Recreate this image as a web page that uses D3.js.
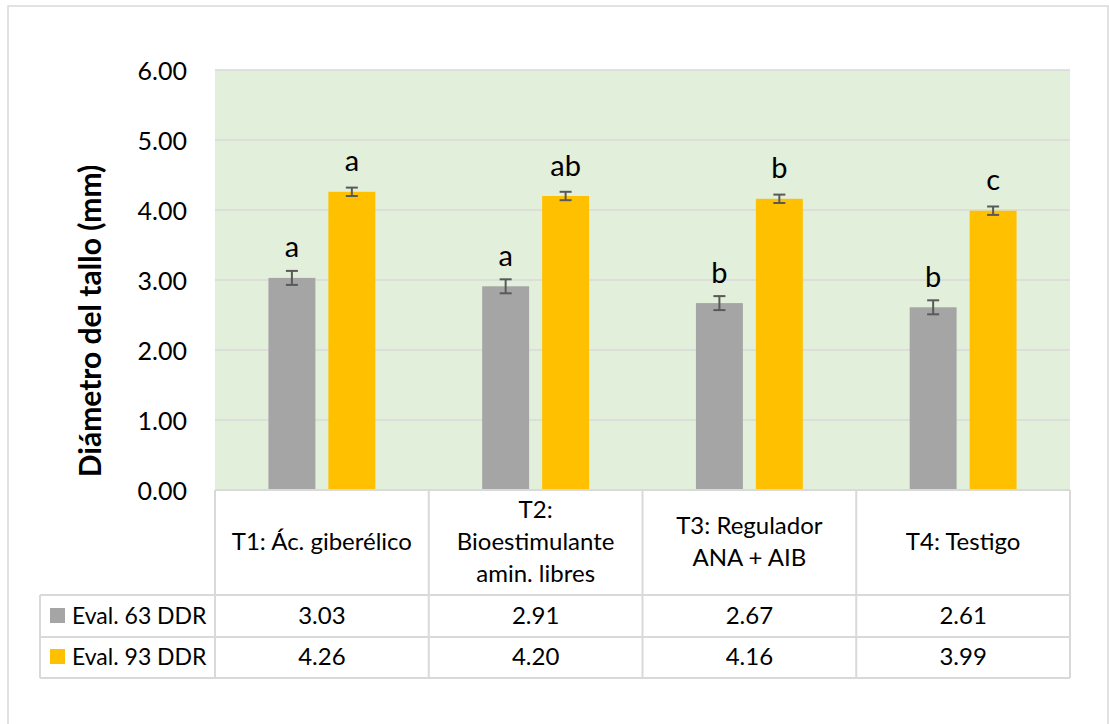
<!DOCTYPE html>
<html><head><meta charset="utf-8">
<script src="https://cdn.jsdelivr.net/npm/d3@7"></script>
<style>body{margin:0;background:#fff}svg{display:block}text{font-family:Lato,"Open Sans",sans-serif;fill:#000}</style>
</head><body><svg id="c" width="1109" height="724"></svg>
<script>
const categories = [["T1: Ác. giberélico"],["T2:","Bioestimulante","amin. libres"],["T3: Regulador","ANA + AIB"],["T4: Testigo"]];
const seriesNames = ["Eval. 63 DDR","Eval. 93 DDR"];
const eval63 = [3.03, 2.91, 2.67, 2.61];
const eval93 = [4.26, 4.20, 4.16, 3.99];
const err63 = [0.10, 0.10, 0.10, 0.10];
const err93 = [0.06, 0.06, 0.06, 0.06];
const letters63 = ["a","a","b","b"];
const letters93 = ["a","ab","b","c"];
const yTicks = [0,1,2,3,4,5,6];
const colors = ["#a5a5a5","#ffc000"];

const values = [eval63, eval93], errs = [err63, err93], letters = [letters63, letters93];
const svg = d3.select("#c");
const L = 215, R = 1070, T = 70, B = 490;
const grid = "#d9d9d9";

// outer border
svg.append("rect").attr("x",8).attr("y",6).attr("width",1100).attr("height",740)
  .attr("fill","none").attr("stroke","#d9d9d9").attr("stroke-width",1.5);

const y = d3.scaleLinear().domain([0,6]).range([B,T]);
const x0 = d3.scaleBand().domain(d3.range(categories.length)).range([L,R]).padding(0);
const bw = x0.bandwidth();
const x1 = d3.scaleBand().domain([0,1]).range([bw*0.25, bw*0.75]).paddingInner(0.217).paddingOuter(0);

svg.append("rect").attr("x",L).attr("y",T).attr("width",R-L).attr("height",B-T).attr("fill","#e2efda");

// grid
svg.append("g").selectAll("line").data(yTicks.filter(d=>d>0)).join("line")
  .attr("x1",L).attr("x2",R).attr("y1",d=>y(d)).attr("y2",d=>y(d))
  .attr("stroke",grid).attr("stroke-width",1.5);

// y axis labels
const yAxis = d3.axisLeft(y).tickValues(yTicks).tickFormat(d3.format(".2f")).tickSize(0).tickPadding(0);
const ga = svg.append("g").attr("transform",`translate(187,0)`).call(yAxis);
ga.select(".domain").remove();
ga.selectAll("text").attr("font-size",25).attr("font-family","Lato").attr("dy","0.36em").attr("fill","#000");

// y title
svg.append("text").attr("transform","translate(101,321) rotate(-90)").attr("text-anchor","middle")
  .attr("font-size",30).attr("font-weight","bold").text("Diámetro del tallo (mm)");

// bars
values.forEach((vals,s)=>{
  const g = svg.append("g");
  g.selectAll("rect").data(vals).join("rect")
    .attr("x",(d,i)=>x0(i)+x1(s)).attr("width",x1.bandwidth())
    .attr("y",d=>y(d)).attr("height",d=>B-y(d)).attr("fill",colors[s]);
  const cx = i => x0(i)+x1(s)+x1.bandwidth()/2;
  vals.forEach((v,i)=>{
    const e = errs[s][i];
    const eg = g.append("g").attr("stroke","#595959").attr("stroke-width",2);
    eg.append("line").attr("x1",cx(i)).attr("x2",cx(i)).attr("y1",y(v+e)).attr("y2",y(v-e));
    eg.append("line").attr("x1",cx(i)-6).attr("x2",cx(i)+6).attr("y1",y(v+e)).attr("y2",y(v+e));
    eg.append("line").attr("x1",cx(i)-6).attr("x2",cx(i)+6).attr("y1",y(v-e)).attr("y2",y(v-e));
    g.append("text").attr("x",cx(i)).attr("y",y(v)-20.5).attr("text-anchor","middle")
      .attr("font-size",29).text(letters[s][i]);
  });
});

// data table
const tg = svg.append("g").attr("stroke",grid).attr("stroke-width",2);
tg.append("line").attr("x1",L).attr("x2",R).attr("y1",B).attr("y2",B);
[595,637,678].forEach(yy=>tg.append("line").attr("x1",40).attr("x2",R).attr("y1",yy).attr("y2",yy));
d3.range(categories.length+1).forEach(i=>{
  const xx = i<categories.length ? x0(i) : R;
  tg.append("line").attr("x1",xx).attr("x2",xx).attr("y1",B).attr("y2",678);
});
tg.append("line").attr("x1",40).attr("x2",40).attr("y1",595).attr("y2",678);

// header labels
categories.forEach((lines,i)=>{
  const cx = x0(i)+bw/2;
  lines.forEach((ln,j)=>{
    svg.append("text").attr("x",cx).attr("y",550+(j-(lines.length-1)/2)*32)
      .attr("text-anchor","middle").attr("font-size",24).text(ln);
  });
});
// rows
const rowBase = [624, 665];
values.forEach((vals,s)=>{
  svg.append("rect").attr("x",50).attr("y",rowBase[s]-16).attr("width",15).attr("height",15).attr("fill",colors[s]);
  svg.append("text").attr("x",72).attr("y",rowBase[s]).attr("font-size",23).text(seriesNames[s]);
  vals.forEach((v,i)=>{
    svg.append("text").attr("x",x0(i)+bw/2).attr("y",rowBase[s]).attr("text-anchor","middle")
      .attr("font-size",24).text(d3.format(".2f")(v));
  });
});
</script></body></html>
